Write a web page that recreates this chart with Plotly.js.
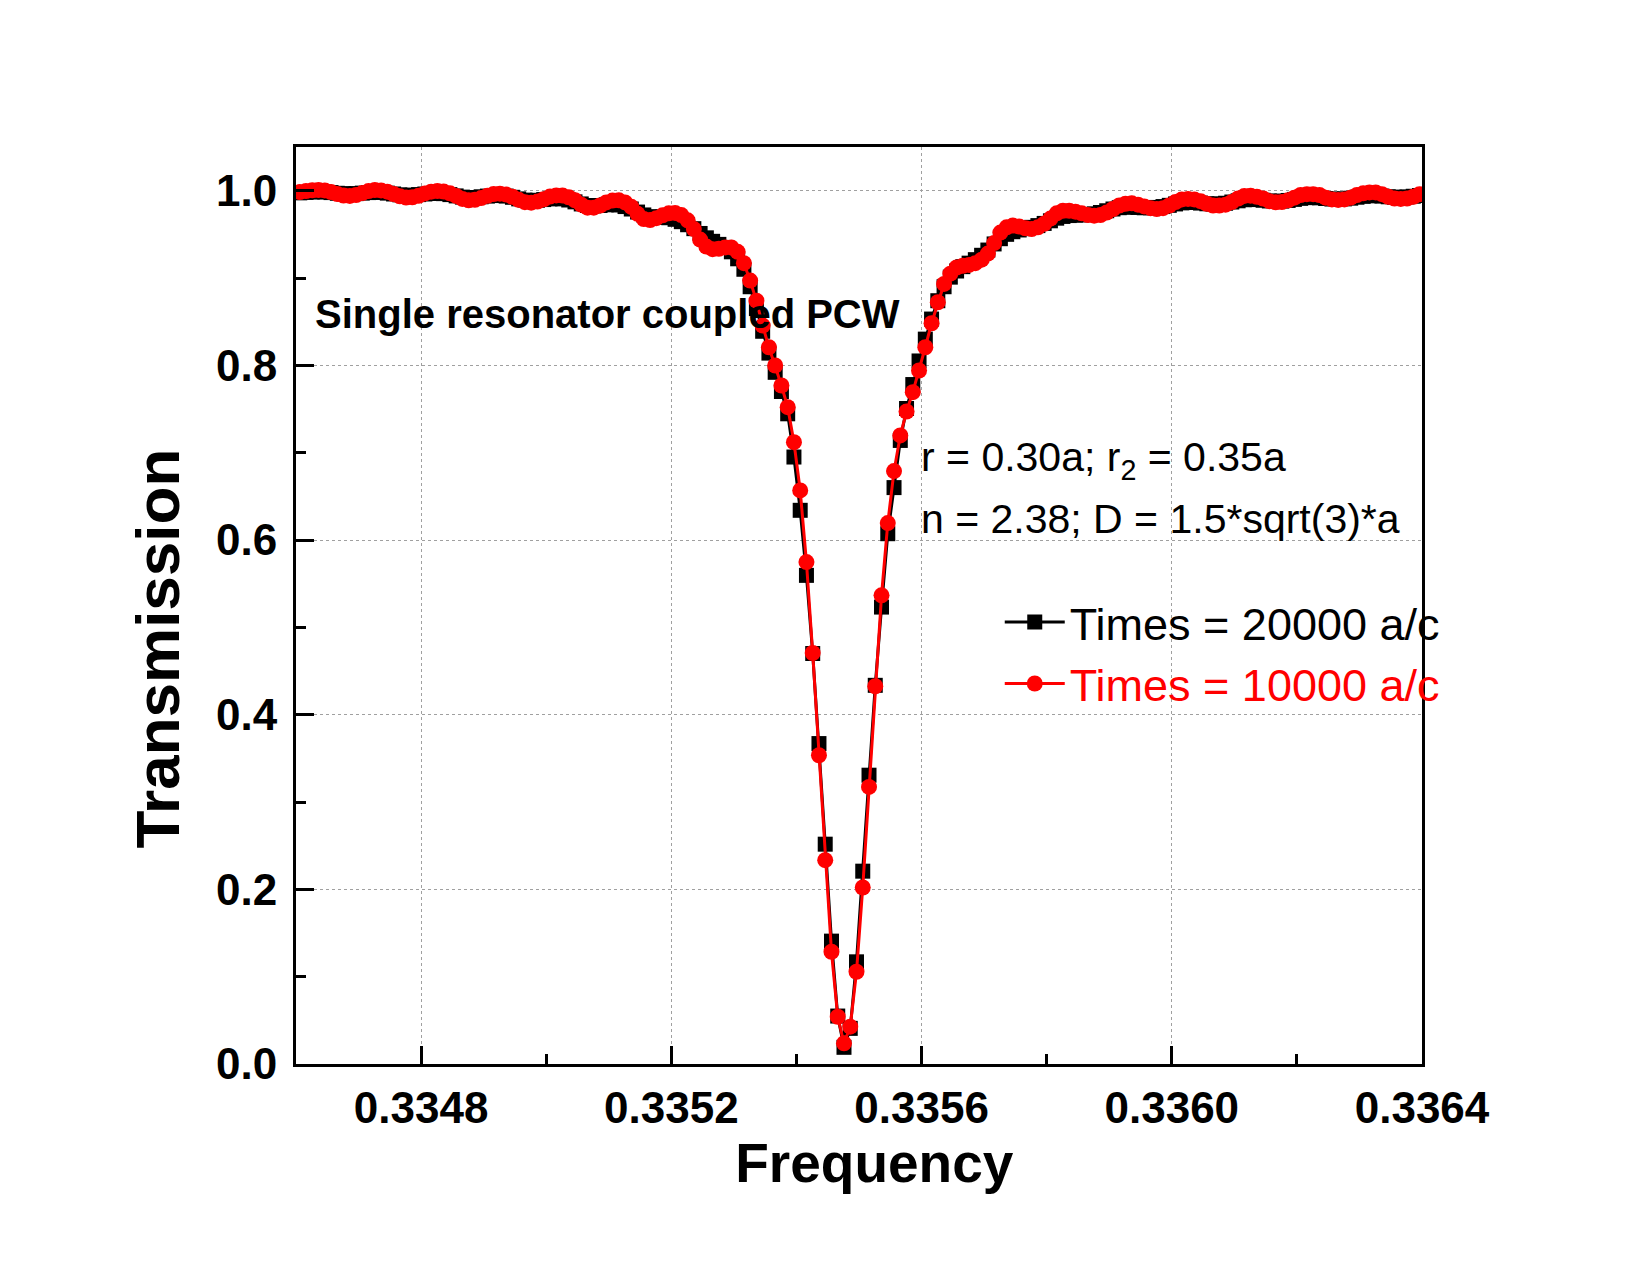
<!DOCTYPE html>
<html>
<head>
<meta charset="utf-8">
<script src="https://cdn.plot.ly/plotly-3.0.1.min.js"></script>
<style>html,body{margin:0;padding:0;background:#fff;}</style>
</head>
<body>
<div id="chart" style="width:1650px;height:1274px;"></div>
<script>
// Frequency samples (a/λ)
const frequency = [
0.334606,0.334616,0.334626,0.334636,0.334646,0.334656,0.334666,0.334676,0.334686,0.334696,
0.334706,0.334716,0.334726,0.334736,0.334746,0.334756,0.334766,0.334776,0.334786,0.334796,
0.334806,0.334816,0.334826,0.334836,0.334846,0.334856,0.334866,0.334876,0.334886,0.334896,
0.334906,0.334916,0.334926,0.334936,0.334946,0.334956,0.334966,0.334976,0.334986,0.334996,
0.335006,0.335016,0.335026,0.335036,0.335046,0.335056,0.335066,0.335076,0.335086,0.335096,
0.335106,0.335116,0.335126,0.335136,0.335146,0.335156,0.335166,0.335176,0.335186,0.335196,
0.335206,0.335216,0.335226,0.335236,0.335246,0.335256,0.335266,0.335276,0.335286,0.335296,
0.335306,0.335316,0.335326,0.335336,0.335346,0.335356,0.335366,0.335376,0.335386,0.335396,
0.335406,0.335416,0.335426,0.335436,0.335446,0.335456,0.335466,0.335476,0.335486,0.335496,
0.335506,0.335516,0.335526,0.335536,0.335546,0.335556,0.335566,0.335576,0.335586,0.335596,
0.335606,0.335616,0.335626,0.335636,0.335646,0.335656,0.335666,0.335676,0.335686,0.335696,
0.335706,0.335716,0.335726,0.335736,0.335746,0.335756,0.335766,0.335776,0.335786,0.335796,
0.335806,0.335816,0.335826,0.335836,0.335846,0.335856,0.335866,0.335876,0.335886,0.335896,
0.335906,0.335916,0.335926,0.335936,0.335946,0.335956,0.335966,0.335976,0.335986,0.335996,
0.336006,0.336016,0.336026,0.336036,0.336046,0.336056,0.336066,0.336076,0.336086,0.336096,
0.336106,0.336116,0.336126,0.336136,0.336146,0.336156,0.336166,0.336176,0.336186,0.336196,
0.336206,0.336216,0.336226,0.336236,0.336246,0.336256,0.336266,0.336276,0.336286,0.336296,
0.336306,0.336316,0.336326,0.336336,0.336346,0.336356,0.336366,0.336376,0.336386,0.336396
];

// Transmission, Times = 20000 a/c (black squares)
const trans20000 = [
0.9975,0.9980,0.9985,0.9988,0.9985,0.9978,0.9970,0.9965,0.9963,0.9966,
0.9972,0.9978,0.9982,0.9980,0.9972,0.9962,0.9952,0.9947,0.9948,0.9955,
0.9962,0.9968,0.9970,0.9966,0.9955,0.9940,0.9926,0.9920,0.9922,0.9930,
0.9938,0.9944,0.9945,0.9938,0.9924,0.9906,0.9892,0.9887,0.9890,0.9898,
0.9906,0.9910,0.9906,0.9893,0.9872,0.9848,0.9830,0.9825,0.9830,0.9838,
0.9842,0.9836,0.9818,0.9790,0.9755,0.9722,0.9702,0.9696,0.9696,0.9690,
0.9672,0.9645,0.9610,0.9565,0.9510,0.9460,0.9420,0.9385,0.9350,0.9300,
0.9220,0.9100,0.8900,0.8650,0.8390,0.8140,0.7920,0.7700,0.7445,0.6950,
0.6340,0.5595,0.4700,0.3669,0.2517,0.1407,0.0549,0.0191,0.0408,0.1170,
0.2208,0.3307,0.4336,0.5232,0.6072,0.6600,0.7140,0.7506,0.7780,0.8050,
0.8300,0.8530,0.8740,0.8900,0.9010,0.9080,0.9130,0.9170,0.9210,0.9260,
0.9320,0.9390,0.9450,0.9500,0.9530,0.9550,0.9565,0.9580,0.9600,0.9625,
0.9655,0.9685,0.9705,0.9715,0.9720,0.9722,0.9726,0.9735,0.9750,0.9770,
0.9790,0.9805,0.9812,0.9812,0.9808,0.9804,0.9804,0.9808,0.9818,0.9832,
0.9848,0.9860,0.9866,0.9865,0.9858,0.9850,0.9846,0.9848,0.9856,0.9870,
0.9884,0.9896,0.9900,0.9898,0.9890,0.9882,0.9878,0.9880,0.9888,0.9900,
0.9912,0.9920,0.9922,0.9918,0.9910,0.9904,0.9902,0.9906,0.9914,0.9925,
0.9935,0.9942,0.9943,0.9938,0.9930,0.9925,0.9924,0.9928,0.9936,0.9945
];

// Transmission, Times = 10000 a/c (red circles)
const trans10000 = [
0.9985,0.9995,1.0005,1.0008,1.0003,0.9985,0.9962,0.9944,0.9940,0.9950,
0.9972,0.9995,1.0007,1.0003,0.9988,0.9962,0.9936,0.9922,0.9924,0.9942,
0.9968,0.9988,0.9996,0.9990,0.9970,0.9940,0.9906,0.9890,0.9895,0.9915,
0.9942,0.9962,0.9966,0.9955,0.9930,0.9895,0.9868,0.9863,0.9875,0.9902,
0.9932,0.9946,0.9944,0.9925,0.9890,0.9840,0.9805,0.9805,0.9830,0.9865,
0.9886,0.9889,0.9865,0.9815,0.9735,0.9675,0.9663,0.9685,0.9718,0.9740,
0.9745,0.9720,0.9660,0.9560,0.9440,0.9360,0.9330,0.9335,0.9350,0.9350,
0.9300,0.9170,0.8970,0.8740,0.8455,0.8207,0.7998,0.7769,0.7521,0.7120,
0.6568,0.5747,0.4706,0.3535,0.2334,0.1285,0.0541,0.0237,0.0427,0.1056,
0.2021,0.3173,0.4325,0.5366,0.6194,0.6789,0.7197,0.7471,0.7693,0.7941,
0.8207,0.8482,0.8722,0.8932,0.9050,0.9120,0.9140,0.9150,0.9170,0.9210,
0.9280,0.9400,0.9520,0.9580,0.9600,0.9590,0.9570,0.9560,0.9580,0.9620,
0.9680,0.9740,0.9770,0.9770,0.9760,0.9740,0.9720,0.9714,0.9720,0.9750,
0.9790,0.9830,0.9850,0.9855,0.9840,0.9820,0.9800,0.9790,0.9800,0.9830,
0.9870,0.9900,0.9905,0.9900,0.9880,0.9850,0.9830,0.9830,0.9840,0.9870,
0.9910,0.9940,0.9943,0.9930,0.9910,0.9880,0.9867,0.9870,0.9890,0.9920,
0.9950,0.9960,0.9960,0.9950,0.9920,0.9900,0.9894,0.9900,0.9920,0.9950,
0.9970,0.9980,0.9980,0.9960,0.9930,0.9910,0.9905,0.9910,0.9930,0.9960
];

const seriesNames = ['Times = 20000 a/c', 'Times = 10000 a/c'];
const xTickLabels = ['0.3348','0.3352','0.3356','0.3360','0.3364'];
const xTickVals = [0.3348,0.3352,0.3356,0.3360,0.3364];
const yTickLabels = ['0.0','0.2','0.4','0.6','0.8','1.0'];
const yTickVals = [0,0.2,0.4,0.6,0.8,1.0];

const FONT = 'Liberation Sans, Arial, sans-serif';

const traces = [
  {
    x: frequency, y: trans20000, type: 'scatter', mode: 'lines+markers',
    name: seriesNames[0],
    line: {color: '#000000', width: 3},
    marker: {symbol: 'square', size: 15, color: '#000000'}
  },
  {
    x: frequency, y: trans10000, type: 'scatter', mode: 'lines+markers',
    name: '<span style="color:#ff0000">' + seriesNames[1] + '</span>',
    line: {color: '#ff0000', width: 3},
    marker: {symbol: 'circle', size: 16, color: '#ff0000'}
  }
];

const axisCommon = {
  showline: true, linecolor: '#000', linewidth: 3, mirror: true,
  ticks: 'inside', ticklen: 18, tickwidth: 3, tickcolor: '#000',
  showgrid: true, gridcolor: '#a0a0a0', gridwidth: 1, griddash: 'dot',
  zeroline: false,
  tickfont: {family: FONT, size: 44, color: '#000', weight: 'bold'}
};

const layout = {
  width: 1650, height: 1274,
  margin: {l: 296, r: 228, t: 147, b: 210, pad: 0},
  paper_bgcolor: '#fff', plot_bgcolor: '#fff',
  font: {family: FONT, color: '#000'},
  showlegend: true,
  legend: {
    x: 0.625, y: 0.521, xanchor: 'left', yanchor: 'top',
    bgcolor: 'rgba(0,0,0,0)', borderwidth: 0,
    font: {family: FONT, size: 45, color: '#000'},
    itemwidth: 60, tracegroupgap: 0
  },
  xaxis: Object.assign({}, axisCommon, {
    range: [0.3346, 0.3364],
    tickmode: 'array', tickvals: xTickVals, ticktext: xTickLabels,
    ticklabelstandoff: 3,
    minor: {ticks: 'inside', ticklen: 10, tickwidth: 3, tickcolor: '#000', dtick: 0.0002, tick0: 0.3348, showgrid: false},
    title: {text: '&nbsp;&nbsp;Frequency', font: {family: FONT, size: 55, weight: 'bold', color: '#000'}, standoff: 13}
  }),
  yaxis: Object.assign({}, axisCommon, {
    range: [0, 1.05],
    tickmode: 'array', tickvals: yTickVals, ticktext: yTickLabels,
    ticklabelstandoff: 7,
    minor: {ticks: 'inside', ticklen: 10, tickwidth: 3, tickcolor: '#000', dtick: 0.1, tick0: 0, showgrid: false},
    title: {text: 'Transmission&nbsp;&nbsp;&nbsp;&nbsp;&nbsp;', font: {family: FONT, size: 62, weight: 'bold', color: '#000'}, standoff: 17}
  }),
  annotations: [
    {xref: 'paper', yref: 'paper', x: 0.015, y: 0.818, xanchor: 'left', yanchor: 'middle',
     text: 'Single resonator coupled PCW', showarrow: false,
     font: {family: FONT, size: 40, weight: 'bold', color: '#000'}},
    {xref: 'paper', yref: 'paper', x: 0.553, y: 0.659, xanchor: 'left', yanchor: 'middle',
     text: 'r = 0.30a; r<sub>2</sub> = 0.35a', showarrow: false,
     font: {family: FONT, size: 41, color: '#000'}},
    {xref: 'paper', yref: 'paper', x: 0.553, y: 0.594, xanchor: 'left', yanchor: 'middle',
     text: 'n = 2.38; D = 1.5*sqrt(3)*a', showarrow: false,
     font: {family: FONT, size: 41, color: '#000'}}
  ]
};

Plotly.newPlot('chart', traces, layout, {displayModeBar: false, staticPlot: true});
</script>
</body>
</html>
